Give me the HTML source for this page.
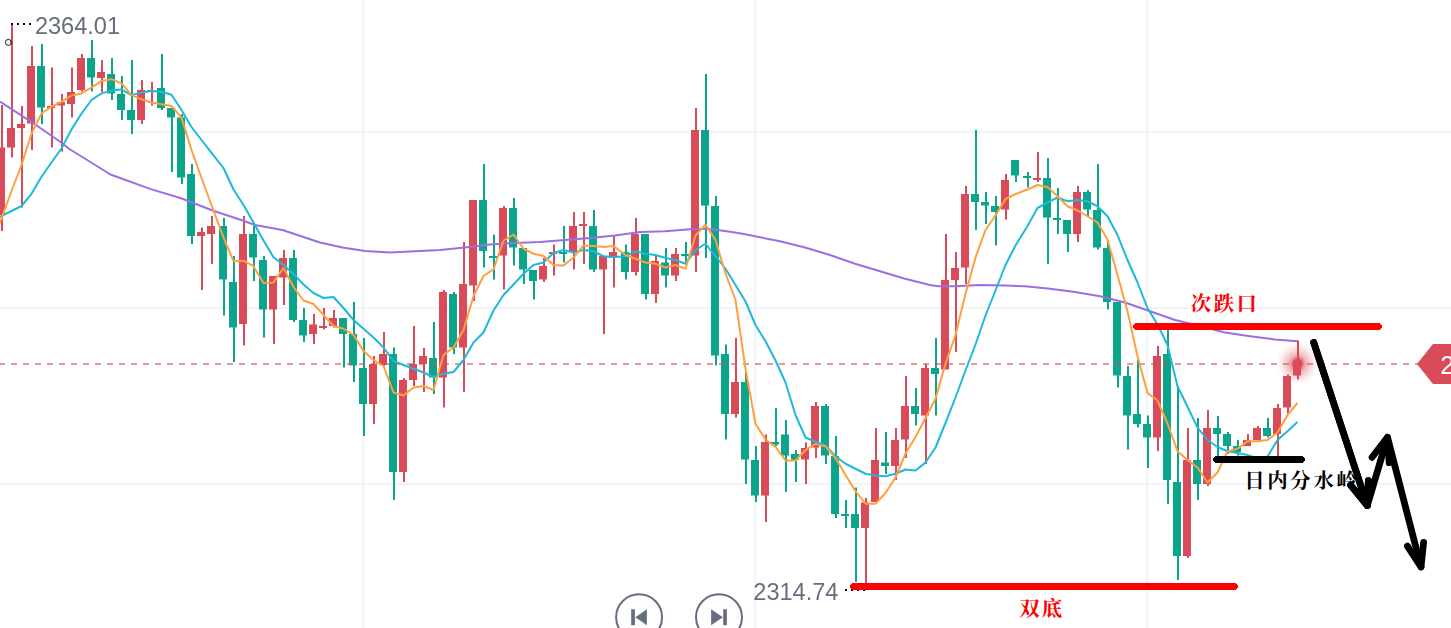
<!DOCTYPE html>
<html><head><meta charset="utf-8"><title>XAUUSD candlestick chart – 次跌口 / 日内分水岭 / 双底</title>
<style>html,body{margin:0;padding:0;background:#fff;overflow:hidden}body{width:1451px;height:628px;font-family:"Liberation Sans",sans-serif}svg{display:block}</style>
</head><body><svg width="1451" height="628" viewBox="0 0 1451 628"><defs><radialGradient id="glow"><stop offset="0" stop-color="#DA4B5A" stop-opacity="1"/><stop offset="0.2" stop-color="#DA4B5A" stop-opacity="1"/><stop offset="0.3" stop-color="#DA4B5A" stop-opacity="0.6"/><stop offset="0.45" stop-color="#DA4B5A" stop-opacity="0.37"/><stop offset="0.65" stop-color="#DA4B5A" stop-opacity="0.2"/><stop offset="0.85" stop-color="#DA4B5A" stop-opacity="0.07"/><stop offset="1" stop-color="#DA4B5A" stop-opacity="0"/></radialGradient><filter id="ga" x="-5%" y="-20%" width="110%" height="140%"><feOffset dx="0" dy="0"/></filter></defs><rect width="1451" height="628" fill="#fff"/><g fill="#F1F3F8"><rect x="0" y="131" width="1451" height="2"/><rect x="0" y="307" width="1451" height="2"/><rect x="0" y="483" width="1451" height="2"/><rect x="362" y="0" width="2" height="628"/><rect x="754" y="0" width="2" height="628"/><rect x="1146" y="0" width="2" height="628"/></g><path d="M1 105h2V231h-2zM-3 147.5h8V215h-8zM11 23h2V157.5h-2zM7 128h8V147.5h-8zM21 106h2V207.5h-2zM17 124h8V128h-8zM31 46h2V150h-2zM27 66h8V123.5h-8zM51 67.5h2V147.5h-2zM47 106h8V108h-8zM61 94h2V151.5h-2zM57 102h8V105.5h-8zM71 67.5h2V117.5h-2zM67 92h8V104h-8zM81 54h2V91.5h-2zM77 58h8V90h-8zM101 60h2V92h-2zM97 72h8V78h-8zM141 80h2V124h-2zM137 90h8V120h-8zM151 82h2V105.5h-2zM147 90h8V92h-8zM201 227.5h2V290h-2zM197 232h8V236h-8zM211 216h2V264h-2zM207 226h8V234h-8zM243 216h2V345.5h-2zM239 234h8V324h-8zM273 276h2V344h-2zM269 276h8V309.5h-8zM283 250h2V305h-2zM279 258h8V277.5h-8zM313 314h2V344h-2zM309 324.5h8V334h-8zM323 308h2V329.5h-2zM319 326h8V328h-8zM333 310h2V327.5h-2zM329 318h8V326h-8zM373 356h2V424h-2zM369 364h8V404h-8zM383 332h2V366h-2zM379 354h8V365h-8zM403 378h2V482h-2zM399 380h8V472h-8zM413 326h2V386h-2zM409 364h8V380h-8zM423 348h2V392h-2zM419 356h8V364h-8zM443 290h2V407.5h-2zM439 292h8V377.5h-8zM463 242h2V392h-2zM459 284h8V347.5h-8zM473 200h2V301h-2zM469 200h8V285.5h-8zM503 206h2V289.5h-2zM499 208h8V255.5h-8zM543 258h2V282h-2zM539 266h8V279.5h-8zM553 244.5h2V275.5h-2zM549 252h8V254h-8zM573 212h2V269.5h-2zM569 226h8V252h-8zM583 212h2V264h-2zM579 224h8V226h-8zM603 256h2V334h-2zM599 256h8V269.5h-8zM613 236h2V287.5h-2zM609 252h8V257.5h-8zM635 218h2V275.5h-2zM631 234h8V272h-8zM655 256h2V303h-2zM651 261h8V294h-8zM675 248h2V281h-2zM671 254h8V275.5h-8zM695 108h2V272h-2zM691 130h8V255.5h-8zM735 338h2V417.5h-2zM731 382h8V414h-8zM765 434.5h2V522h-2zM761 442h8V495.5h-8zM805 442.5h2V484h-2zM801 448h8V459.5h-8zM815 402h2V458h-2zM811 406h8V447.5h-8zM865 498h2V583h-2zM861 502.5h8V528h-8zM875 428h2V502h-2zM871 460h8V502h-8zM895 428h2V480h-2zM891 440h8V466h-8zM905 376h2V458h-2zM901 406h8V439.5h-8zM925 364h2V464h-2zM921 368h8V415.5h-8zM945 234h2V369.5h-2zM941 280h8V369.5h-8zM955 252h2V352h-2zM951 268h8V280h-8zM965 186h2V284h-2zM961 194h8V267.5h-8zM1005 174h2V219.5h-2zM1001 180h8V209.5h-8zM1037 152h2V182h-2zM1033 178h8V180h-8zM1077 186h2V242h-2zM1073 192h8V234h-8zM1157 346h2V451h-2zM1153 356h8V437.5h-8zM1187 428h2V558h-2zM1183 460h8V556h-8zM1207 410h2V486h-2zM1203 428h8V484h-8zM1247 434h2V446h-2zM1243 440h8V446h-8zM1257 426h2V440h-2zM1253 428h8V440h-8zM1277 404h2V456h-2zM1273 408h8V434h-8zM1287 374.5h2V415h-2zM1283 376h8V407.5h-8z" fill="#DA4B5A"/><path d="M41 44h2V124h-2zM37 66h8V107.5h-8zM91 40h2V91.5h-2zM87 58h8V77.5h-8zM111 58h2V100h-2zM107 74h8V93.5h-8zM121 76h2V120h-2zM117 94h8V110h-8zM131 60h2V134h-2zM127 110h8V120h-8zM161 54h2V110h-2zM157 88h8V108h-8zM171 108h2V172h-2zM167 108h8V117.5h-8zM181 114h2V184h-2zM177 117.5h8V177.5h-8zM191 164h2V244h-2zM187 174h8V236h-8zM223 218h2V315.5h-2zM219 226h8V279.5h-8zM233 256h2V362h-2zM229 282h8V327.5h-8zM253 226h2V281h-2zM249 234h8V257.5h-8zM263 256h2V337.5h-2zM259 260h8V309.5h-8zM293 250h2V322h-2zM289 258h8V320h-8zM303 308h2V342h-2zM299 320h8V335.5h-8zM343 318h2V367.5h-2zM339 318h8V334h-8zM353 302h2V382h-2zM349 334h8V365.5h-8zM363 338h2V436h-2zM359 368h8V404h-8zM393 347.5h2V500h-2zM389 354h8V472h-8zM433 322h2V394h-2zM429 358h8V377.5h-8zM453 292h2V354h-2zM449 294h8V347.5h-8zM483 164h2V267.5h-2zM479 200h8V251h-8zM493 234.5h2V279.5h-2zM489 256h8V258h-8zM513 198h2V265.5h-2zM509 208h8V247.5h-8zM523 248h2V284h-2zM519 248h8V269.5h-8zM533 270h2V299.5h-2zM529 270h8V281h-8zM563 226h2V262.5h-2zM559 252h8V254h-8zM593 210h2V272h-2zM589 226h8V269.5h-8zM625 244.5h2V279.5h-2zM621 252h8V272h-8zM645 234h2V299.5h-2zM641 234h8V294h-8zM665 248h2V287.5h-2zM661 262.5h8V275.5h-8zM685 242h2V262.5h-2zM681 254h8V256h-8zM705 74h2V258h-2zM701 130h8V205.5h-8zM715 196h2V365.5h-2zM711 206h8V355.5h-8zM725 344.5h2V439.5h-2zM721 354h8V414h-8zM745 372.5h2V484h-2zM741 382h8V459.5h-8zM755 446h2V502h-2zM751 460h8V495.5h-8zM775 408h2V446h-2zM771 442h8V444.5h-8zM785 420h2V492h-2zM781 434.5h8V455.5h-8zM795 450h2V482h-2zM791 454h8V460h-8zM825 404h2V464h-2zM821 406h8V455.5h-8zM835 436h2V518h-2zM831 456h8V514h-8zM845 500h2V528h-2zM841 514h8V516h-8zM855 487.5h2V582h-2zM851 514h8V528h-8zM885 432h2V474h-2zM881 462.5h8V466h-8zM915 388h2V425.5h-2zM911 406h8V414h-8zM935 338h2V415.5h-2zM931 368h8V374h-8zM975 130h2V230h-2zM971 194h8V202h-8zM985 192h2V224h-2zM981 202h8V205.5h-8zM995 196h2V245.5h-2zM991 206h8V212h-8zM1015 160h2V182h-2zM1011 160h8V175.5h-8zM1027 172h2V187.5h-2zM1023 176h8V178h-8zM1047 158h2V264h-2zM1043 178h8V217.5h-8zM1057 188h2V234h-2zM1053 218h8V220h-8zM1067 220h2V252h-2zM1063 220h8V234h-8zM1087 190h2V216h-2zM1083 192h8V209.5h-8zM1097 164h2V249.5h-2zM1093 210h8V247.5h-8zM1107 240h2V309.5h-2zM1103 248h8V302h-8zM1117 302h2V387.5h-2zM1113 302h8V375.5h-8zM1127 366h2V449.5h-2zM1123 376h8V415.5h-8zM1137 360h2V427.5h-2zM1133 414h8V424h-8zM1147 415.5h2V468h-2zM1143 424h8V437.5h-8zM1167 330h2V504h-2zM1163 354h8V480h-8zM1177 386h2V580h-2zM1173 482h8V556h-8zM1197 418h2V500h-2zM1193 460h8V484h-8zM1217 416h2V457.5h-2zM1213 428h8V434h-8zM1227 432h2V454h-2zM1223 434h8V446h-8zM1237 440h2V455.5h-2zM1233 446h8V452h-8zM1267 418h2V437.5h-2zM1263 428h8V436h-8z" fill="#0AA58A"/><path d="M-1 364H5M11 364H17M23 364H29M35 364H41M47 364H53M59 364H65M71 364H77M83 364H89M95 364H101M107 364H113M119 364H125M131 364H137M143 364H149M155 364H161M167 364H173M179 364H185M191 364H197M203 364H209M215 364H221M227 364H233M239 364H245M251 364H257M263 364H269M275 364H281M287 364H293M299 364H305M311 364H317M323 364H329M335 364H341M347 364H353M359 364H365M371 364H377M383 364H389M395 364H401M407 364H413M419 364H425M431 364H437M443 364H449M455 364H461M467 364H473M479 364H485M491 364H497M503 364H509M515 364H521M527 364H533M539 364H545M551 364H557M563 364H569M575 364H581M587 364H593M599 364H605M611 364H617M623 364H629M635 364H641M647 364H653M659 364H665M671 364H677M683 364H689M695 364H701M707 364H713M719 364H725M731 364H737M743 364H749M755 364H761M767 364H773M779 364H785M791 364H797M803 364H809M815 364H821M827 364H833M839 364H845M851 364H857M863 364H869M875 364H881M887 364H893M899 364H905M911 364H917M923 364H929M935 364H941M947 364H953M959 364H965M971 364H977M983 364H989M995 364H1001M1007 364H1013M1019 364H1025M1031 364H1037M1043 364H1049M1055 364H1061M1067 364H1073M1079 364H1085M1091 364H1097M1103 364H1109M1115 364H1121M1127 364H1133M1139 364H1145M1151 364H1157M1163 364H1169M1175 364H1181M1187 364H1193M1199 364H1205M1211 364H1217M1223 364H1229M1235 364H1241M1247 364H1253M1259 364H1265M1271 364H1277M1283 364H1289M1295 364H1301M1307 364H1313M1319 364H1325M1331 364H1337M1343 364H1349M1355 364H1361M1367 364H1373M1379 364H1385M1391 364H1397M1403 364H1409M1415 364H1418" stroke="#DA4B5A" stroke-opacity="0.58" stroke-width="2" fill="none"/><polyline points="0,101.5 37,125.7 62,143 68.6,148.5 110.5,174.5 150,188.9 181,198.2 214,211 242,220.2 255,225 282.5,230 320,242.5 342.5,247.5 365,251 390,252.5 415,251.25 440,250 465,247.5 490,244.5 515,243 540,242 565,240 590,238 615,235.5 640,232 665,231.25 690,229.3 705,228.75 717.5,230 730,231.75 742.5,233.75 755,236.25 780,241.25 805,247.5 830,255 855,263.75 880,271.25 905,278.75 930,285 938,286.25 955,286.25 980,285 1005,285.5 1025,286.25 1050,288.75 1075,292 1100,296.25 1125,302.5 1150,311.25 1175,320 1187.5,323 1225,332.5 1250,336.25 1275,339.5 1298,341.25" fill="none" stroke="#9A6FE3" stroke-width="2" stroke-linejoin="round"/><polyline points="-8.5,221 1.5,216 11.5,211 21.5,206 31.5,193.8 41.5,176.8 51.5,162.5 61.5,148.5 71.5,129.4 81.5,113.5 91.5,100 101.5,93.4 111.5,90.6 121.5,89.6 131.5,95.1 141.5,92.6 151.5,90.9 161.5,91.8 171.5,94.8 181.5,110 191.5,127 201.5,140 211.5,152.8 223.5,168 233.5,189.5 243.5,205 253.5,222.5 263.5,240.6 273.5,257.3 283.5,265 293.5,274 303.5,284.5 313.5,293 323.5,298 333.5,297 343.5,308 353.5,320 363.5,328.75 373.5,337.5 383.5,347.5 393.5,361 403.5,365 413.5,368.75 423.5,372.5 433.5,377 443.5,373.75 453.5,372 463.5,360 473.5,342.5 483.5,332.5 493.5,310.5 503.5,295 513.5,284.5 523.5,273.75 533.5,265 543.5,262.5 553.5,253 563.5,250 573.5,252.5 583.5,250 593.5,251.25 603.5,256.25 613.5,257 625.5,256.25 635.5,251.25 645.5,253.75 655.5,255 665.5,258 675.5,260 685.5,263.75 695.5,250 705.5,243.75 715.5,256.25 725.5,268.75 735.5,285 745.5,301.5 755.5,325 765.5,341.25 775.5,360.5 785.5,382.5 795.5,415 805.5,437.5 815.5,441.75 825.5,445.5 835.5,456.25 845.5,463.75 855.5,468.75 865.5,473.75 875.5,475.5 885.5,476.25 895.5,473.75 905.5,469.5 915.5,470.5 925.5,462.5 935.5,447.5 945.5,423 955.5,397.5 965.5,370.5 975.5,344.5 985.5,315.5 995.5,290.5 1005.5,265 1015.5,245.5 1027.5,226 1037.5,208 1047.5,202.5 1057.5,197.5 1067.5,201.25 1077.5,200 1087.5,201.25 1097.5,206.25 1107.5,216.25 1117.5,235 1127.5,260 1137.5,282.5 1147.5,308 1157.5,324.5 1167.5,345 1177.5,386.25 1187.5,406.75 1197.5,427.5 1207.5,440 1217.5,447 1227.5,451.25 1237.5,453 1247.5,455 1257.5,458.5 1267.5,456.5 1277.5,440 1287.5,431.25 1297.5,422" fill="none" stroke="#1FB8DB" stroke-width="2" stroke-linejoin="round"/><polyline points="-8.5,244 1.5,218.5 11.5,191 21.5,165 31.5,133.6 41.5,113.5 51.5,106.5 61.5,101.8 71.5,95.5 81.5,93.4 91.5,87.6 101.5,80.9 111.5,79.2 121.5,83.4 131.5,95.1 141.5,99.3 151.5,102.6 161.5,104.3 171.5,106 181.5,117.7 191.5,150 201.5,178 211.5,205 223.5,237.5 233.5,261.2 243.5,260.7 253.5,266.2 263.5,283 273.5,282.4 283.5,268 293.5,287 303.5,300.5 313.5,304 323.5,315 333.5,326 343.5,328.75 353.5,335 363.5,351 373.5,360 383.5,366 393.5,392.5 403.5,395.5 413.5,387.5 423.5,386 433.5,390 443.5,355 453.5,347.5 463.5,330 473.5,296 483.5,276 493.5,269.5 503.5,240.5 513.5,234.5 523.5,248.75 533.5,253.75 543.5,256 553.5,265 563.5,265.5 573.5,257.5 583.5,245.5 593.5,246 603.5,247 613.5,246 625.5,255 635.5,258.75 645.5,262.5 655.5,263.75 665.5,267.5 675.5,265 685.5,268.75 695.5,235.5 705.5,224.5 715.5,240 725.5,273.5 735.5,300 745.5,368.75 755.5,423.75 765.5,439.5 775.5,447 785.5,460.5 795.5,460.5 805.5,450 815.5,444 825.5,446.25 835.5,458 845.5,475 855.5,491.25 865.5,503.75 875.5,503.75 885.5,493 895.5,477.5 905.5,453.5 915.5,437 925.5,418 935.5,398.75 945.5,363.75 955.5,335 965.5,293.75 975.5,257.5 985.5,230 995.5,215.5 1005.5,199 1015.5,194 1027.5,189.5 1037.5,185 1047.5,187 1057.5,196.25 1067.5,206.25 1077.5,210.5 1087.5,216.25 1097.5,222.5 1107.5,239.5 1117.5,275 1127.5,311.25 1137.5,356.25 1147.5,393 1157.5,400.5 1167.5,423.5 1177.5,451.25 1187.5,460 1197.5,467.5 1207.5,482.5 1217.5,472.5 1227.5,451.25 1237.5,448.75 1247.5,441.25 1257.5,441.25 1267.5,440 1277.5,432.5 1287.5,415 1297.5,403" fill="none" stroke="#FF9F40" stroke-width="2" stroke-linejoin="round"/><circle cx="1297.5" cy="363.6" r="21" fill="url(#glow)"/><path d="M1297 340.5h2V379.5h-2z" fill="#DA4B5A"/><path d="M1293 375.5V363h8V375.5z" fill="#DA4B5A"/><path d="M1417 364L1433 344H1451V384H1433z" fill="#DA4B5A"/><g filter="url(#ga)"><text x="1440.3" y="373.8" font-family="Liberation Sans, sans-serif" font-size="25.5" fill="#fff">2</text></g><path shape-rendering="crispEdges" fill="#FF0000" d="M1133 325h1v-1h1v-1H1380v1h1v1h1v3h-1v1h-1v1H1135v-1h-1v-1h-1z"/><path shape-rendering="crispEdges" fill="#000" d="M1213 458h1v-1h1v-1H1303v1h1v1h1v3h-1v1h-1v1H1215v-1h-1v-1h-1z"/><g stroke="#000" stroke-width="6.8" stroke-linecap="round" stroke-linejoin="round" fill="none"><path d="M1313.7 342.4L1367.3 505.5L1387.5 437.3L1421 567"/><path d="M1350.6 485.1L1367.3 505.5L1368.4 480.6"/><path d="M1372.1 457.3L1387.5 437.3L1389.2 462.7"/><path d="M1407.4 546.2L1421 567L1423.6 542.3"/></g><g font-family="Liberation Sans, sans-serif" font-size="23.55" fill="#676D81" filter="url(#ga)"><text x="34.9" y="33.8">2364.01</text><text x="753.3" y="600">2314.74</text></g><g fill="#000"><rect x="11" y="23" width="2" height="2"/><rect x="17" y="23" width="2" height="2"/><rect x="23" y="23" width="2" height="2"/><rect x="29" y="23" width="2" height="2"/><rect x="845" y="589" width="2" height="2"/><rect x="851" y="589" width="2" height="2"/><rect x="857" y="589" width="2" height="2"/><rect x="863" y="589" width="2" height="2"/></g><path shape-rendering="crispEdges" fill="#FF0000" d="M850 585h1v-1h1v-1H1236v1h1v1h1v3h-1v1h-1v1H852v-1h-1v-1h-1z"/><rect x="10.4" y="40.6" width="1.3" height="3.4" fill="#0AA58A"/><circle cx="8.4" cy="42.4" r="3" fill="none" stroke="#000" stroke-width="0.9"/><g fill="none" stroke="#676D81" stroke-width="2"><circle cx="639.1" cy="617.2" r="23"/><circle cx="719" cy="617.2" r="23"/></g><g fill="#676D81"><rect x="631.2" y="609.2" width="3.7" height="16"/><path d="M635.3 617.2L646.9 609.3V625.2z"/><rect x="723.2" y="609.2" width="3.7" height="16"/><path d="M722.9 617.2L711.1 609.3V625.2z"/></g><text x="1190.8" y="311.2" font-family="'Liberation Serif', 'Noto Serif CJK SC', serif" font-weight="bold" font-size="20.4" letter-spacing="2.5" fill="#FF0000">次跌口</text><text x="1244.2" y="488.3" font-family="'Liberation Serif', 'Noto Serif CJK SC', serif" font-weight="bold" font-size="20.4" letter-spacing="2.7" fill="#000">日内分水岭</text><text x="1019.3" y="615.5" font-family="'Liberation Serif', 'Noto Serif CJK SC', serif" font-weight="bold" font-size="20.5" letter-spacing="2" fill="#FF0000">双底</text><g stroke="#000" stroke-width="6.8" stroke-linecap="round" stroke-linejoin="round" fill="none"><path d="M1313.7 342.4L1367.3 505.5"/><path d="M1350.6 485.1L1367.3 505.5L1368.4 480.6"/></g></svg></body></html>
